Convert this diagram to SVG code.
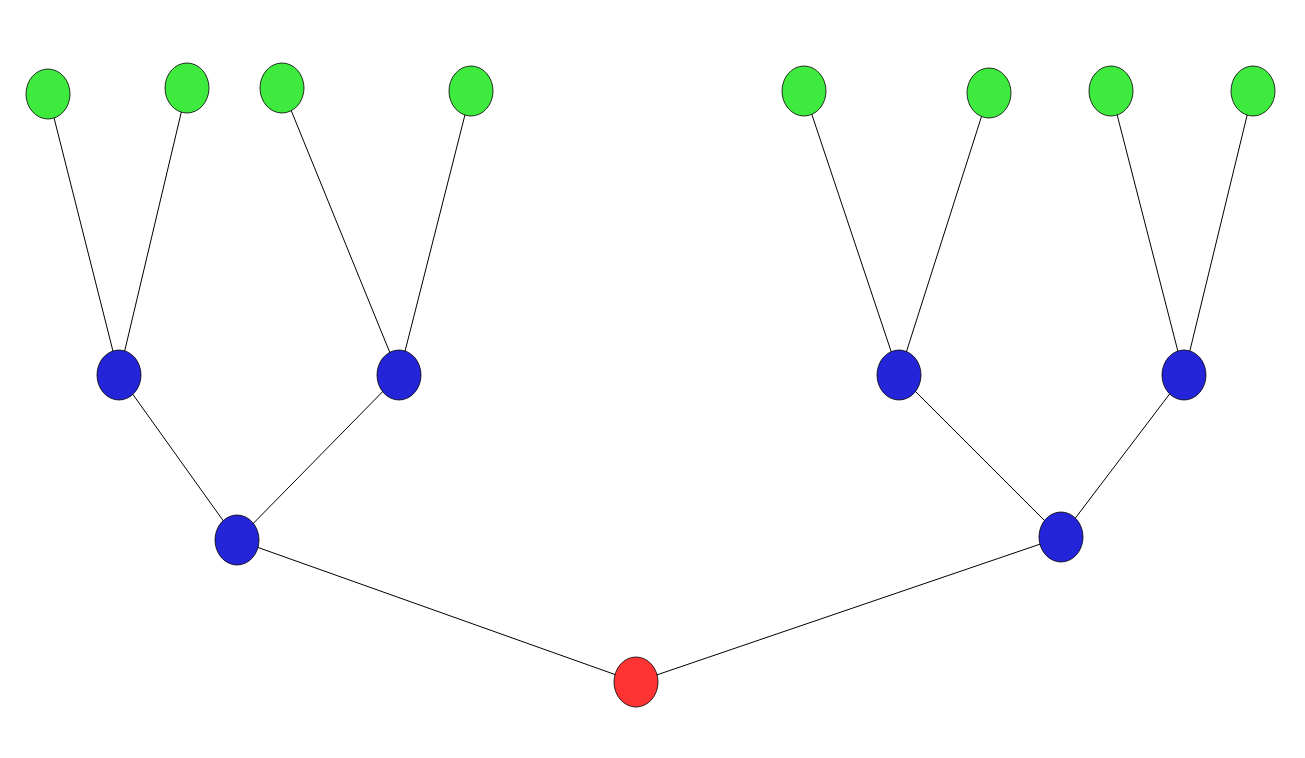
<svg xmlns="http://www.w3.org/2000/svg" width="1305" height="758" viewBox="0 0 1305 758">
<style>
.e{stroke:#000;stroke-width:1;fill:none}
ellipse{stroke:#000;stroke-width:0.8}
.g{fill:#3dea3d}.b{fill:#2424d8}.r{fill:#fe3333}
</style>
<rect width="1305" height="758" fill="#fff"/>
<g id="edges" class="e">
<line x1="636" y1="682" x2="237" y2="540"/>
<line x1="636" y1="682" x2="1061" y2="537"/>
<line x1="237" y1="540" x2="119" y2="375"/>
<line x1="237" y1="540" x2="399" y2="375"/>
<line x1="1061" y1="537" x2="899" y2="375"/>
<line x1="1061" y1="537" x2="1184" y2="375"/>
<line x1="119" y1="375" x2="48" y2="94"/>
<line x1="119" y1="375" x2="187" y2="88"/>
<line x1="399" y1="375" x2="282" y2="88"/>
<line x1="399" y1="375" x2="471" y2="91"/>
<line x1="899" y1="375" x2="804" y2="91"/>
<line x1="899" y1="375" x2="989" y2="93"/>
<line x1="1184" y1="375" x2="1111" y2="91"/>
<line x1="1184" y1="375" x2="1253" y2="91"/>
</g>
<g id="n0"><ellipse class="r" cx="636" cy="682" rx="22" ry="25"/></g>
<g id="n1"><ellipse class="b" cx="237" cy="540" rx="22" ry="25"/></g>
<g id="n2"><ellipse class="b" cx="1061" cy="537" rx="22" ry="25"/></g>
<g id="n3"><ellipse class="b" cx="119" cy="375" rx="22" ry="25"/></g>
<g id="n4"><ellipse class="b" cx="399" cy="375" rx="22" ry="25"/></g>
<g id="n5"><ellipse class="b" cx="899" cy="375" rx="22" ry="25"/></g>
<g id="n6"><ellipse class="b" cx="1184" cy="375" rx="22" ry="25"/></g>
<g id="n7"><ellipse class="g" cx="48" cy="94" rx="22" ry="25"/></g>
<g id="n8"><ellipse class="g" cx="187" cy="88" rx="22" ry="25"/></g>
<g id="n9"><ellipse class="g" cx="282" cy="88" rx="22" ry="25"/></g>
<g id="n10"><ellipse class="g" cx="471" cy="91" rx="22" ry="25"/></g>
<g id="n11"><ellipse class="g" cx="804" cy="91" rx="22" ry="25"/></g>
<g id="n12"><ellipse class="g" cx="989" cy="93" rx="22" ry="25"/></g>
<g id="n13"><ellipse class="g" cx="1111" cy="91" rx="22" ry="25"/></g>
<g id="n14"><ellipse class="g" cx="1253" cy="91" rx="22" ry="25"/></g>
</svg>
